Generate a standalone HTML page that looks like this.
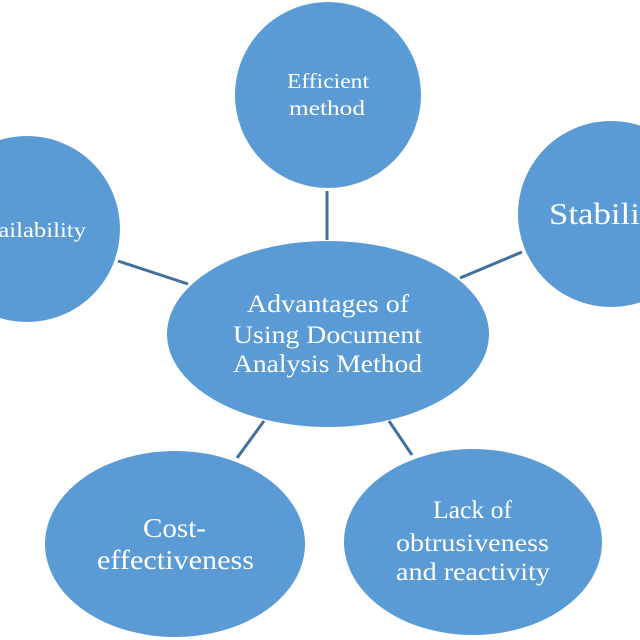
<!DOCTYPE html>
<html><head><meta charset="utf-8"><style>html,body{margin:0;padding:0;background:#fff}svg{display:block}</style></head>
<body>
<svg width="640" height="640" viewBox="0 0 640 640" xmlns="http://www.w3.org/2000/svg">
<g stroke="#41719c" stroke-width="3">
<line x1="327" y1="191" x2="327" y2="240"/>
<line x1="118" y1="261" x2="188" y2="284"/>
<line x1="460" y1="278" x2="522" y2="252"/>
<line x1="264" y1="421" x2="237" y2="458"/>
<line x1="389" y1="421" x2="412" y2="455"/>
</g>
<g fill="#5b9bd5">
<circle cx="328" cy="95" r="93"/>
<circle cx="27" cy="229" r="93"/>
<circle cx="611" cy="214" r="93"/>
<ellipse cx="328" cy="334" rx="161" ry="93"/>
<ellipse cx="175" cy="544" rx="130" ry="93"/>
<ellipse cx="473" cy="542" rx="129" ry="93"/>
</g>
<g fill="#fff" font-family="'Liberation Serif', serif">
<text x="287" y="88" font-size="21" textLength="82" lengthAdjust="spacingAndGlyphs">Efficient</text>
<text x="289" y="115" font-size="21" textLength="76" lengthAdjust="spacingAndGlyphs">method</text>
<text x="-30" y="237" font-size="21" textLength="116" lengthAdjust="spacingAndGlyphs">Availability</text>
<text x="549" y="224" font-size="31" textLength="118" lengthAdjust="spacingAndGlyphs">Stability</text>
<text x="247" y="312" font-size="25" textLength="162" lengthAdjust="spacingAndGlyphs">Advantages of</text>
<text x="233" y="343" font-size="25" textLength="189" lengthAdjust="spacingAndGlyphs">Using Document</text>
<text x="233" y="372" font-size="25" textLength="189" lengthAdjust="spacingAndGlyphs">Analysis Method</text>
<text x="143" y="537" font-size="27" textLength="63" lengthAdjust="spacingAndGlyphs">Cost-</text>
<text x="97" y="569" font-size="27" textLength="157" lengthAdjust="spacingAndGlyphs">effectiveness</text>
<text x="433" y="518" font-size="25" textLength="79" lengthAdjust="spacingAndGlyphs">Lack of</text>
<text x="396" y="551" font-size="25" textLength="153" lengthAdjust="spacingAndGlyphs">obtrusiveness</text>
<text x="396" y="580" font-size="25" textLength="154" lengthAdjust="spacingAndGlyphs">and reactivity</text>
</g>
</svg>
</body></html>
